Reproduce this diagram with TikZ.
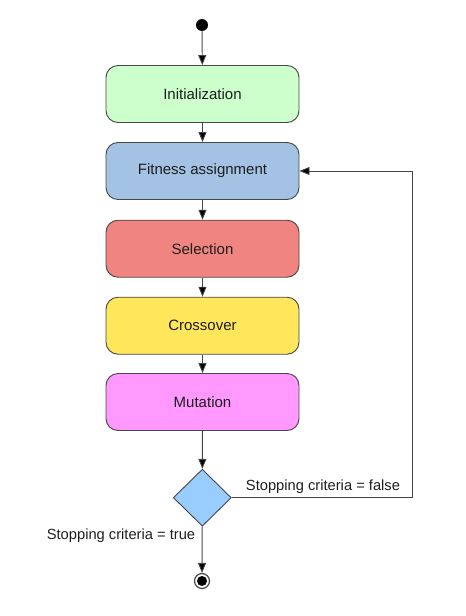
\documentclass[tikz,border=0pt]{standalone}
\usepackage{fontspec}
\setmainfont{Liberation Sans}
\usetikzlibrary{arrows.meta,shapes.geometric}
\definecolor{cinit}{RGB}{204,255,204}
\definecolor{cfit}{RGB}{164,194,228}
\definecolor{csel}{RGB}{240,132,128}
\definecolor{ccross}{RGB}{255,230,90}
\definecolor{cmut}{RGB}{255,153,255}
\definecolor{cdia}{RGB}{153,204,255}
\definecolor{cline}{RGB}{70,70,70}
\definecolor{ctext}{RGB}{30,30,30}
\tikzset{
  stepbox/.style={draw=cline, line width=0.9pt, rounded corners=12pt, minimum width=193pt, minimum height=57pt, inner sep=0pt, text=ctext, font=\fontsize{15}{17}\selectfont},
  conn/.style={draw=cline, line width=0.9pt, -{Triangle[length=10pt,width=8pt,fill=black]}},
  lbl/.style={text=ctext, font=\fontsize{14.7}{17}\selectfont, inner sep=0pt}
}
\begin{document}
\begin{tikzpicture}[x=1pt,y=-1pt]
\useasboundingbox (0,0) rectangle (466,616);
\node[circle, fill=black, minimum size=12pt, inner sep=0pt] (start) at (202,25) {};
\node[stepbox, fill=cinit] (init) at (202.5,94) {Initialization};
\node[stepbox, fill=cfit] (fit) at (202.5,171) {Fitness assignment};
\node[stepbox, fill=csel] (sel) at (202.5,248.7) {Selection};
\node[stepbox, fill=ccross] (cross) at (202.5,325.7) {Crossover};
\node[stepbox, fill=cmut] (mut) at (202.5,402) {Mutation};
\node[diamond, draw=cline, line width=0.9pt, fill=cdia, minimum width=58pt, minimum height=57pt, inner sep=0pt] (dec) at (202.3,497.7) {};
\node[circle, draw=cline, fill=white, line width=1.2pt, minimum size=15pt, inner sep=0pt] (stop) at (202,581) {};
\node[circle, fill=black, minimum size=10pt, inner sep=0pt] (stopin) at (202,581) {};
\coordinate (loop) at (412.7,497.7);
\draw[conn] (start) -- (init);
\draw[conn] (init) -- (fit);
\draw[conn] (fit) -- (sel);
\draw[conn] (sel) -- (cross);
\draw[conn] (cross) -- (mut);
\draw[conn] (mut) -- (dec);
\draw[conn] (dec) -- (stop);
\draw[conn] (dec.east) -- (loop) |- (fit.east);
\node[lbl] (lfalse) at (323,487) {Stopping criteria = false};
\node[lbl] (ltrue) at (121,535.5) {Stopping criteria = true};
\end{tikzpicture}
\end{document}
